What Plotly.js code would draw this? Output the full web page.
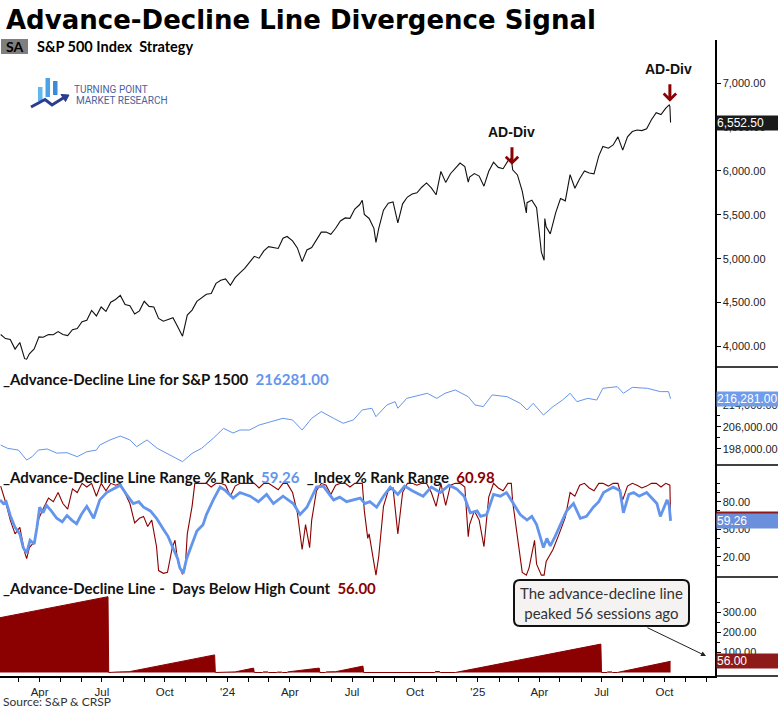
<!DOCTYPE html>
<html>
<head>
<meta charset="utf-8">
<script src="https://cdn.plot.ly/plotly-3.0.1.min.js"></script>
<style>html,body{margin:0;padding:0;background:#fff;}#chart{width:778px;height:708px;}</style>
</head>
<body>
<div id="chart"></div>
<script>
// ---------------- DATA ----------------
const spxDates = ["2023-02-03","2023-02-10","2023-02-17","2023-02-24","2023-03-03","2023-03-10","2023-03-13","2023-03-17","2023-03-24","2023-03-31",
"2023-04-06","2023-04-14","2023-04-21","2023-04-28","2023-05-05","2023-05-12","2023-05-19","2023-05-26","2023-06-02","2023-06-09",
"2023-06-16","2023-06-23","2023-06-30","2023-07-07","2023-07-14","2023-07-21","2023-07-28","2023-08-04","2023-08-11","2023-08-18",
"2023-08-25","2023-09-01","2023-09-08","2023-09-15","2023-09-22","2023-09-29","2023-10-06","2023-10-13","2023-10-20","2023-10-27",
"2023-11-03","2023-11-10","2023-11-17","2023-11-24","2023-12-01","2023-12-08","2023-12-15","2023-12-22","2023-12-29","2024-01-05",
"2024-01-12","2024-01-19","2024-01-26","2024-02-02","2024-02-09","2024-02-16","2024-02-23","2024-03-01","2024-03-08","2024-03-15",
"2024-03-22","2024-03-28","2024-04-05","2024-04-12","2024-04-19","2024-04-26","2024-05-03","2024-05-10","2024-05-17","2024-05-24",
"2024-05-31","2024-06-07","2024-06-14","2024-06-21","2024-06-28","2024-07-05","2024-07-12","2024-07-16","2024-07-19","2024-07-26",
"2024-08-02","2024-08-05","2024-08-09","2024-08-16","2024-08-23","2024-08-30","2024-09-06","2024-09-13","2024-09-20","2024-09-27",
"2024-10-04","2024-10-11","2024-10-18","2024-10-25","2024-11-01","2024-11-08","2024-11-15","2024-11-22","2024-11-29","2024-12-06",
"2024-12-13","2024-12-18","2024-12-20","2024-12-27","2025-01-03","2025-01-10","2025-01-17","2025-01-24","2025-01-31","2025-02-07",
"2025-02-14","2025-02-19","2025-02-21","2025-02-28","2025-03-07","2025-03-13","2025-03-14","2025-03-21","2025-03-28","2025-04-04",
"2025-04-08","2025-04-09","2025-04-11","2025-04-17","2025-04-25","2025-05-02","2025-05-09","2025-05-16","2025-05-23","2025-05-30",
"2025-06-06","2025-06-13","2025-06-20","2025-06-27","2025-07-03","2025-07-11","2025-07-18","2025-07-25","2025-08-01","2025-08-08",
"2025-08-15","2025-08-22","2025-08-29","2025-09-05","2025-09-12","2025-09-19","2025-09-26","2025-10-03","2025-10-08","2025-10-09","2025-10-10"];
const spxClose = [4136,4090,4079,3970,4045,3861,3855,3917,3971,4109,
4105,4137,4133,4169,4136,4124,4191,4205,4282,4299,
4410,4348,4450,4399,4505,4536,4582,4478,4464,4370,
4406,4515,4457,4450,4320,4288,4308,4327,4224,4117,
4358,4415,4514,4559,4595,4604,4719,4755,4770,4697,
4784,4840,4891,4959,5027,5006,5089,5137,5124,5117,
5234,5254,5204,5123,4967,5100,5128,5223,5303,5305,
5278,5347,5431,5465,5460,5567,5615,5667,5505,5459,
5346,5186,5344,5554,5634,5648,5408,5626,5703,5738,
5751,5815,5864,5808,5729,5995,5870,5969,6032,6090,
6051,5872,5931,5971,5942,5827,5997,6101,6041,6026,
6115,6144,6013,5955,5770,5522,5639,5668,5581,5074,
4982,5457,5363,5283,5525,5686,5660,5958,5803,5912,
6000,5977,5968,6173,6279,6260,6297,6389,6238,6389,
6450,6467,6460,6482,6584,6664,6644,6716,6753,6735,6552.5];

const adDates = ["2023-02-03","2023-02-13","2023-03-01","2023-03-13","2023-03-21","2023-03-30","2023-04-12","2023-04-26","2023-05-11","2023-05-26",
"2023-06-09","2023-06-23","2023-06-28","2023-07-13","2023-07-28","2023-08-11","2023-08-21","2023-09-05","2023-09-20","2023-10-09",
"2023-10-27","2023-11-10","2023-11-24","2023-12-11","2023-12-26","2024-01-09","2024-01-19","2024-02-02","2024-02-16","2024-03-04",
"2024-03-22","2024-04-05","2024-04-19","2024-05-03","2024-05-17","2024-06-04","2024-06-18","2024-07-03","2024-07-16","2024-07-30",
"2024-08-05","2024-08-21","2024-09-02","2024-09-06","2024-09-19","2024-10-19","2024-11-02","2024-11-14","2024-11-29","2024-12-18",
"2024-12-28","2025-01-09","2025-01-22","2025-02-13","2025-03-04","2025-03-14","2025-03-23","2025-04-07","2025-04-21","2025-05-05",
"2025-05-16","2025-05-26","2025-06-11","2025-06-24","2025-07-03","2025-07-24","2025-08-02","2025-08-15","2025-09-06","2025-09-25",
"2025-10-07","2025-10-10"];
const adLine = [199450,198250,197600,194000,195200,197600,198000,196500,196650,195200,
197000,197600,199450,201300,202700,201300,198850,201300,198250,195800,
193400,196400,198250,201900,205500,203800,204900,204900,206700,207900,
209150,208550,204900,209150,211600,209150,207350,208550,212200,212800,
209750,214000,215200,212800,216400,218250,216400,218250,219450,217000,
214000,213400,217650,217000,214600,212200,214600,210350,213400,215800,
218250,215200,216400,215800,220050,220650,218250,220400,220050,218850,
218850,216281];

const rankDates = ["2023-02-02","2023-02-07","2023-02-11","2023-02-17","2023-02-24","2023-03-03","2023-03-08","2023-03-13","2023-03-18","2023-03-24",
"2023-03-28","2023-04-01","2023-04-06","2023-04-11","2023-04-18","2023-04-26","2023-05-04","2023-05-11","2023-05-18","2023-05-25",
"2023-06-01","2023-06-09","2023-06-19","2023-06-28","2023-07-08","2023-07-18","2023-07-28","2023-08-06","2023-08-16","2023-08-24",
"2023-08-31","2023-09-10","2023-09-19","2023-09-29","2023-10-06","2023-10-14","2023-10-20","2023-10-23","2023-10-28","2023-11-02",
"2023-11-07","2023-11-12","2023-11-17","2023-11-26","2023-12-01","2023-12-11","2023-12-21","2023-12-29","2024-01-09","2024-01-19",
"2024-02-03","2024-02-15","2024-02-27","2024-03-08","2024-03-22","2024-04-06","2024-04-16","2024-04-26","2024-05-10","2024-05-20",
"2024-06-04","2024-06-13","2024-06-23","2024-07-13","2024-07-20","2024-07-27","2024-08-06","2024-08-16","2024-08-26","2024-09-06",
"2024-09-16","2024-09-27","2024-10-13","2024-10-25","2024-11-07","2024-11-20","2024-12-01","2024-12-12","2024-12-21","2024-12-31",
"2025-01-05","2025-01-14","2025-01-24","2025-02-03","2025-02-12","2025-02-22","2025-03-04","2025-03-14","2025-03-21","2025-03-28",
"2025-04-07","2025-04-12","2025-04-17","2025-04-24","2025-05-01","2025-05-11","2025-05-21","2025-05-31","2025-06-09","2025-06-19",
"2025-06-27","2025-07-04","2025-07-18","2025-07-28","2025-08-02","2025-08-10","2025-08-17","2025-08-25","2025-09-05","2025-09-15",
"2025-09-20","2025-09-25","2025-10-05","2025-10-08","2025-10-10"];
const adRank = [82,78,80,65,52,45,30,24,38,34,
52,74,68,76,70,62,58,65,60,56,
66,75,62,82,90,94,98,88,78,80,
74,70,62,50,42,28,18,8,2,18,
28,40,48,55,66,82,96,92,84,90,
86,80,88,78,86,78,66,74,96,97,
82,85,80,84,78,80,74,86,96,88,
97,92,86,96,90,98,94,86,68,70,
64,66,88,86,90,78,66,60,64,55,
30,40,32,42,53,70,78,62,64,74,
80,90,96,92,68,88,90,86,90,82,
78,64,82,76,59.26];

const idxRankDates = ["2023-02-03","2023-02-10","2023-02-17","2023-02-24","2023-03-03","2023-03-10","2023-03-13","2023-03-17","2023-03-24","2023-03-31",
"2023-04-06","2023-04-14","2023-04-21","2023-04-28","2023-05-05","2023-05-12","2023-05-19","2023-05-26","2023-06-02","2023-06-09",
"2023-06-16","2023-06-23","2023-06-30","2023-07-07","2023-07-14","2023-07-21","2023-07-28","2023-08-04","2023-08-11","2023-08-18",
"2023-08-25","2023-08-31","2023-09-06","2023-09-12","2023-09-19","2023-09-22","2023-09-29","2023-10-05","2023-10-12","2023-10-16",
"2023-10-20","2023-10-27","2023-10-31","2023-11-03","2023-11-10","2023-11-14","2023-11-24","2023-12-01","2023-12-08","2023-12-15",
"2023-12-22","2023-12-29","2024-01-05","2024-01-12","2024-01-19","2024-01-26","2024-02-02","2024-02-09","2024-02-16","2024-02-23",
"2024-03-01","2024-03-08","2024-03-15","2024-03-22","2024-03-28","2024-04-05","2024-04-12","2024-04-19","2024-04-24","2024-04-30",
"2024-05-03","2024-05-10","2024-05-17","2024-05-24","2024-05-31","2024-06-07","2024-06-14","2024-06-21","2024-06-28","2024-07-05",
"2024-07-16","2024-07-19","2024-07-24","2024-07-26","2024-08-02","2024-08-05","2024-08-09","2024-08-16","2024-08-23","2024-08-30",
"2024-09-06","2024-09-13","2024-09-20","2024-09-27","2024-10-04","2024-10-11","2024-10-18","2024-10-25","2024-11-01","2024-11-08",
"2024-11-15","2024-11-22","2024-11-29","2024-12-06","2024-12-13","2024-12-18","2024-12-20","2024-12-27","2025-01-03","2025-01-10",
"2025-01-17","2025-01-24","2025-01-31","2025-02-07","2025-02-14","2025-02-19","2025-02-21","2025-02-28","2025-03-07","2025-03-13",
"2025-03-17","2025-03-25","2025-03-28","2025-04-04","2025-04-08","2025-04-11","2025-04-21","2025-04-30","2025-05-09","2025-05-16",
"2025-05-23","2025-05-30","2025-06-06","2025-06-13","2025-06-20","2025-06-27","2025-07-03","2025-07-11","2025-07-18","2025-07-25",
"2025-08-01","2025-08-08","2025-08-15","2025-08-22","2025-08-29","2025-09-05","2025-09-12","2025-09-19","2025-09-26","2025-10-03",
"2025-10-09","2025-10-10"];
const idxRank = [97,80,60,45,52,25,18,30,36,62,
72,84,80,90,78,72,94,90,100,96,
100,86,100,92,100,98,100,88,78,57,
62,64,53,60,31,5,2,3,30,38,
15,1,8,45,75,100,100,100,96,100,
100,98,86,97,100,100,100,100,95,100,
100,96,93,100,100,90,68,28,55,30,
60,92,100,98,88,98,100,100,96,100,
100,70,40,45,15,0,20,75,92,95,
45,90,100,100,98,100,100,90,75,100,
76,98,100,100,96,42,55,70,60,31,
85,100,95,92,100,100,80,40,3,0,
8,38,12,0,0,15,28,45,63,90,
86,98,100,95,92,100,100,97,100,100,
82,97,100,98,95,97,100,100,96,100,
98,60.98];

const dbhDates = ["2023-02-02","2023-07-10","2023-07-11","2023-07-26","2023-07-27","2023-08-10","2023-12-13","2023-12-14","2023-12-28","2023-12-29",
"2024-01-12","2024-02-08","2024-02-09","2024-02-21","2024-02-22","2024-02-29","2024-03-01","2024-03-13","2024-03-14","2024-03-20",
"2024-03-21","2024-03-28","2024-03-29","2024-05-14","2024-05-15","2024-05-23","2024-05-24","2024-06-07","2024-07-17","2024-07-18",
"2024-07-24","2024-07-25","2024-08-01","2024-08-02","2024-08-20","2024-08-21","2024-08-28","2024-08-29","2024-09-19","2024-09-20",
"2024-09-26","2024-09-27","2024-10-07","2024-10-08","2024-10-14","2024-10-15","2024-10-30","2024-10-31","2024-11-06","2024-11-07",
"2024-11-11","2024-11-12","2024-11-18","2024-11-19","2024-11-29","2025-06-30","2025-07-01","2025-07-09","2025-07-10","2025-07-16",
"2025-07-17","2025-07-24","2025-10-10"];
const dbhCount = [274,379,0,0,3,4,88,0,0,3,
3,22,0,0,3,3,0,0,2,2,
0,0,3,22,0,0,3,4,32,0,
0,3,3,0,0,3,3,0,0,3,
3,0,0,3,3,0,0,5,5,0,
0,3,3,0,0,142,0,0,3,3,
0,0,56];

const quarterTicks = ["2023-04-01","2023-07-01","2023-10-01","2024-01-01","2024-04-01","2024-07-01","2024-10-01","2025-01-01","2025-04-01","2025-07-01","2025-10-01"];
const quarterLabels = ["Apr","Jul","Oct","'24","Apr","Jul","Oct","'25","Apr","Jul","Oct"];
const priceTicks = [4000,4500,5000,5500,6000,6500,7000];
const adTicks = [198000,206000,214000];
const rankTicks = [20,50,80];
const dbhTicks = [100,200,300];

// ---------------- LAYOUT HELPERS ----------------
const PW = 715, PB = 676, PH = 636;
const px = x => x / PW;
const py = y => (PB - y) / PH;
const D4 = [0, py(577)], D3 = [py(577), py(465)], D2 = [py(465), py(367)], D1 = [py(367), 1];

const RED = '#8B0000', BLUE = '#6495ED';
const tickFont = {family:'Liberation Sans, Arial, sans-serif', size:11, color:'#222'};
const xTickFont = {family:'Liberation Sans, Arial, sans-serif', size:11.5, color:'#222'};

function yAx(domain, range, tickvals, minorVals) {
  return {domain, range, side:'right', anchor:'x', showline:true, linecolor:'#000', linewidth:1.5,
    ticks:'outside', ticklen:4, tickcolor:'#000', tickvals, tickformat:',.2f', tickfont:tickFont,
    showgrid:false, zeroline:false, fixedrange:true,
    minor: minorVals ? {tickvals:minorVals, ticks:'outside', ticklen:3, tickcolor:'#000', showgrid:false} : undefined};
}

function roundRect(x0, y0, x1, y1, r) {
  const X = v => px(v).toFixed(5), Y = v => py(v).toFixed(5);
  return `M ${X(x0+r)},${Y(y0)} L ${X(x1-r)},${Y(y0)} Q ${X(x1)},${Y(y0)} ${X(x1)},${Y(y0+r)} ` +
         `L ${X(x1)},${Y(y1-r)} Q ${X(x1)},${Y(y1)} ${X(x1-r)},${Y(y1)} L ${X(x0+r)},${Y(y1)} ` +
         `Q ${X(x0)},${Y(y1)} ${X(x0)},${Y(y1-r)} L ${X(x0)},${Y(y0+r)} Q ${X(x0)},${Y(y0)} ${X(x0+r)},${Y(y0)} Z`;
}
function poly(pts) {
  return 'M ' + pts.map(p => px(p[0]).toFixed(5) + ',' + py(p[1]).toFixed(5)).join(' L ');
}
function rectPx(x0, y0, x1, y1, color) {
  return {type:'rect', xref:'paper', yref:'paper', x0:px(x0), x1:px(x1), y0:py(y1), y1:py(y0),
    fillcolor:color, line:{width:0}, layer:'above'};
}

// ---------------- TRACES ----------------
const traces = [
  {x:spxDates, y:spxClose, type:'scatter', mode:'lines', line:{color:'#111', width:1.1}, xaxis:'x', yaxis:'y', hoverinfo:'skip'},
  {x:adDates, y:adLine, type:'scatter', mode:'lines', line:{color:BLUE, width:1}, xaxis:'x', yaxis:'y2', hoverinfo:'skip'},
  {x:idxRankDates, y:idxRank, type:'scatter', mode:'lines', line:{color:RED, width:1.1}, xaxis:'x', yaxis:'y3', hoverinfo:'skip'},
  {x:rankDates, y:adRank, type:'scatter', mode:'lines', line:{color:BLUE, width:2.8}, xaxis:'x', yaxis:'y3', hoverinfo:'skip'},
  {x:dbhDates, y:dbhCount, type:'scatter', mode:'lines', fill:'tozeroy', fillcolor:RED, line:{color:RED, width:1}, xaxis:'x', yaxis:'y4', hoverinfo:'skip'}
];

// ---------------- ANNOTATIONS ----------------
const lblFont = {family:'Lato, sans-serif', size:15, color:'#111'};
const lastPrice = spxClose[spxClose.length-1], lastAD = adLine[adLine.length-1];
const lastRank = adRank[adRank.length-1], lastIdx = idxRank[idxRank.length-1], lastDbh = dbhCount[dbhCount.length-1];
const fmt = (v, d) => v.toLocaleString('en-US', {minimumFractionDigits:d, maximumFractionDigits:d});

function valueBox(yref, y, text, bg) {
  return {xref:'paper', yref, x:1 + px(1), y, xanchor:'left', yanchor:'middle', text, showarrow:false,
    font:{family:'Liberation Sans, Arial, sans-serif', size:12, color:'#fff'}, bgcolor:bg,
    width:64, height:14, align:'left', borderpad:0};
}

const annotations = [
  {xref:'paper', yref:'paper', x:px(4), y:py(20), xanchor:'left', yanchor:'middle', showarrow:false,
   text:'<b>Advance-Decline Line Divergence Signal</b>', font:{family:'DejaVu Sans, sans-serif', size:26, color:'#000'}},
  {xref:'paper', yref:'paper', x:px(14.5), y:py(46.5), xanchor:'center', yanchor:'middle', showarrow:false,
   text:'<b>SA</b>', font:{family:'Lato, sans-serif', size:14, color:'#000'}},
  {xref:'paper', yref:'paper', x:px(35), y:py(46.5), xanchor:'left', yanchor:'middle', showarrow:false,
   text:'<b>S&amp;P 500 Index &nbsp;Strategy</b>', font:{family:'Lato, sans-serif', size:14.5, color:'#000'}},
  {xref:'paper', yref:'paper', x:px(72), y:py(89), xanchor:'left', yanchor:'middle', showarrow:false,
   text:'TURNING POINT', font:{family:'Roboto, sans-serif', size:10, color:'#4a5f9e'}},
  {xref:'paper', yref:'paper', x:px(74), y:py(100.5), xanchor:'left', yanchor:'middle', showarrow:false,
   text:'MARKET RESEARCH', font:{family:'Roboto, sans-serif', size:10, color:'#4a5f9e'}},
  // panel labels
  {xref:'paper', yref:'paper', x:px(1), y:py(379), xanchor:'left', yanchor:'middle', showarrow:false, font:lblFont,
   text:`<b>_Advance-Decline Line for S&amp;P 1500 &nbsp;<span style="color:${BLUE}">${fmt(lastAD,2).replace(/,/g,'')}</span></b>`},
  {xref:'paper', yref:'paper', x:px(1), y:py(477), xanchor:'left', yanchor:'middle', showarrow:false, font:lblFont,
   text:`<b>_Advance-Decline Line Range % Rank &nbsp;<span style="color:${BLUE}">${fmt(lastRank,2)}</span> &nbsp;_Index % Rank Range &nbsp;<span style="color:${RED}">${fmt(lastIdx,2)}</span></b>`},
  {xref:'paper', yref:'paper', x:px(1), y:py(588), xanchor:'left', yanchor:'middle', showarrow:false, font:lblFont,
   text:`<b>_Advance-Decline Line - &nbsp;Days Below High Count &nbsp;<span style="color:${RED}">${fmt(lastDbh,2)}</span></b>`},
  // AD-Div signals
  {xref:'x', yref:'y', x:'2025-02-20', y:6440, showarrow:false, text:'<b>AD-Div</b>',
   font:{family:'Liberation Sans, Arial, sans-serif', size:14, color:'#111'}},
  {xref:'x', yref:'y', x:'2025-02-20', y:6070, ax:0, ay:-19, text:'', showarrow:true,
   arrowhead:4, arrowsize:0.8, arrowwidth:3, arrowcolor:RED, standoff:0},
  {xref:'x', yref:'y', x:'2025-10-07', y:7160, showarrow:false, text:'<b>AD-Div</b>',
   font:{family:'Liberation Sans, Arial, sans-serif', size:14, color:'#111'}},
  {xref:'x', yref:'y', x:'2025-10-09', y:6790, ax:0, ay:-19, text:'', showarrow:true,
   arrowhead:4, arrowsize:0.8, arrowwidth:3, arrowcolor:RED, standoff:0},
  // callout
  {xref:'paper', yref:'paper', x:px(601.5), y:py(603), xanchor:'center', yanchor:'middle', showarrow:false,
   text:'The advance-decline line<br>peaked 56 sessions ago', align:'center',
   font:{family:'Lato, sans-serif', size:15, color:'#333'}},
  {xref:'paper', yref:'paper', x:px(706), y:py(656), ax:-60, ay:-29, text:'', showarrow:true,
   arrowhead:2, arrowsize:1, arrowwidth:1, arrowcolor:'#222', standoff:0},
  // source
  {xref:'paper', yref:'paper', x:px(1), y:py(701), xanchor:'left', yanchor:'middle', showarrow:false,
   text:'Source: S&amp;P &amp; CRSP', font:{family:'Lato, sans-serif', size:12, color:'#333'}},
  // right-axis value boxes
  valueBox('y', lastPrice, fmt(lastPrice,2), '#1b1b1b'),
  valueBox('y2', lastAD, fmt(lastAD,2), '#6f9ceb'),
  valueBox('y3', lastIdx, fmt(lastIdx,2), '#8f1a1a'),
  valueBox('y3', lastRank, fmt(lastRank,2), '#6a8fdc'),
  valueBox('y4', lastDbh, fmt(lastDbh,2), '#8f1a1a')
];

// ---------------- SHAPES ----------------
const sepLine = y => ({type:'line', xref:'paper', yref:'paper', x0:1, x1:1.2, y0:py(y), y1:py(y), line:{color:'#000', width:1.5}, layer:'above'});
const shapes = [
  rectPx(1, 39, 28, 54, '#7f7f7f'),
  // logo
  rectPx(38, 87, 42.5, 101, '#62b8ee'),
  rectPx(45.5, 78, 50, 97, '#4aa3e6'),
  rectPx(53, 81, 57.5, 95, '#3a8bd9'),
  {type:'path', xref:'paper', yref:'paper', layer:'above', path:poly([[31,107],[45,99.5],[52,105],[64,97.5]]), line:{color:'#2b3d8f', width:3}},
  {type:'path', xref:'paper', yref:'paper', layer:'above', path:poly([[61,94.5],[69,95],[65.5,101.5]]) + ' Z', fillcolor:'#2b3d8f', line:{color:'#2b3d8f', width:1}},
  // callout box
  {type:'path', xref:'paper', yref:'paper', layer:'above', path:roundRect(514, 580, 689, 626, 6), fillcolor:'#f5f2f2', line:{color:'#111', width:2}},
  sepLine(367), sepLine(465), sepLine(577), sepLine(676)
];

const layout = {
  width:778, height:708, margin:{l:0, r:63, t:40, b:32, pad:0},
  paper_bgcolor:'#fff', plot_bgcolor:'#fff', showlegend:false, hovermode:false,
  xaxis:{domain:[0,1], anchor:'y4', type:'date', range:['2023-02-02','2025-12-14'],
    tickvals:quarterTicks, ticktext:quarterLabels, ticks:'outside', ticklen:4, tickcolor:'#000',
    showline:true, linecolor:'#000', linewidth:2, showgrid:false, zeroline:false, tickfont:xTickFont, fixedrange:true,
    minor:{tick0:'2023-01-01', dtick:'M1', ticks:'outside', ticklen:4, tickcolor:'#000', showgrid:false}},
  yaxis: yAx(D1, [3766, 7493], priceTicks, null),
  yaxis2: yAx(D2, [192180, 227800], adTicks, [202000, 210000]),
  yaxis3: yAx(D3, [-2, 120], rankTicks, [10,30,40,60,70,90,100]),
  yaxis4: yAx(D4, [-17.5, 477.5], dbhTicks, [50,150,250,350]),
  annotations, shapes
};

Plotly.newPlot('chart', traces, layout, {staticPlot:true, displayModeBar:false});
</script>
</body>
</html>
